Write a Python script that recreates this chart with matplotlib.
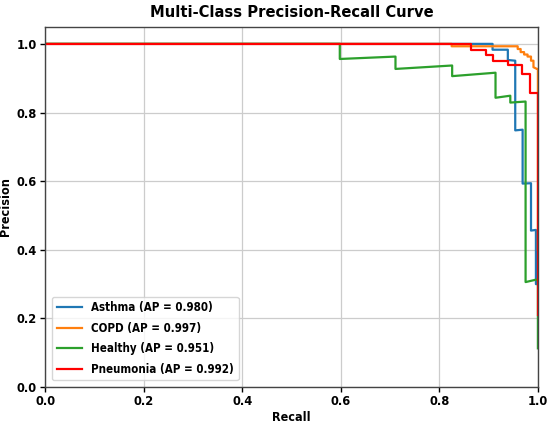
import numpy as np
import matplotlib.pyplot as plt

# recall / precision points
asthma_r = [0.0, 0.908, 0.908, 0.939, 0.939, 0.954, 0.954, 0.969, 0.969, 0.986, 0.986, 0.996, 0.996, 1.0, 1.0]
asthma_p = [1.0, 1.0, 0.983, 0.983, 0.953, 0.951, 0.748, 0.750, 0.593, 0.594, 0.456, 0.458, 0.30, 0.30, 0.30]

copd_r = [0.0, 0.825, 0.825, 0.959, 0.959, 0.965, 0.965, 0.972, 0.972, 0.979, 0.979, 0.986, 0.986, 0.991, 0.991, 0.998, 1.0, 1.0]
copd_p = [1.0, 1.0, 0.993, 0.993, 0.985, 0.985, 0.976, 0.976, 0.969, 0.969, 0.963, 0.963, 0.951, 0.951, 0.932, 0.927, 0.927, 0.40]

healthy_r = [0.0, 0.598, 0.598, 0.711, 0.711, 0.826, 0.826, 0.914, 0.914, 0.944, 0.944, 0.975, 0.975, 0.996, 1.0, 1.0]
healthy_p = [1.0, 1.0, 0.956, 0.963, 0.927, 0.937, 0.906, 0.916, 0.843, 0.849, 0.829, 0.832, 0.306, 0.313, 0.313, 0.113]

pneu_r = [0.0, 0.865, 0.865, 0.895, 0.895, 0.908, 0.908, 0.939, 0.939, 0.968, 0.968, 0.983, 0.983, 0.998, 1.0, 1.0]
pneu_p = [1.0, 1.0, 0.982, 0.982, 0.969, 0.969, 0.951, 0.951, 0.939, 0.939, 0.913, 0.913, 0.856, 0.856, 0.856, 0.209]

names = ["Asthma", "COPD", "Healthy", "Pneumonia"]
ap = [0.980, 0.997, 0.951, 0.992]
colors = ["#1f77b4", "#ff7f0e", "#2ca02c", "#ff0000"]
curves = [(asthma_r, asthma_p), (copd_r, copd_p), (healthy_r, healthy_p), (pneu_r, pneu_p)]

plt.rcParams['font.weight'] = 'bold'
plt.rcParams['font.stretch'] = 'condensed'
fig = plt.figure(figsize=(5.5, 4.24), dpi=100)
ax = fig.add_axes([0.082, 0.087, 0.896, 0.85])

for (r, p), n, a, c in zip(curves, names, ap, colors):
    ax.plot(r, p, lw=1.6, color=c, label=f"{n} (AP = {a:.3f})")

ax.set_xlim(0, 1.0)
ax.set_ylim(0, 1.05)
ax.set_xticks([0.0, 0.2, 0.4, 0.6, 0.8, 1.0])
ax.set_yticks([0.0, 0.2, 0.4, 0.6, 0.8, 1.0])
ax.tick_params(labelsize=9.2, colors='black', width=1, length=3.5, pad=2.5)
ax.grid(True, color='#cccccc', lw=0.9)
for s in ax.spines.values():
    s.set_color('#444444')
    s.set_linewidth(1)

ax.set_xlabel("Recall", fontsize=9, fontweight='bold', labelpad=2)
ax.set_ylabel("Precision", fontsize=9, fontweight='bold', labelpad=3)
ax.set_title("Multi-Class Precision-Recall Curve", fontsize=11.8, fontweight='bold', pad=7)

leg = ax.legend(loc='lower left', fontsize=8.3, borderaxespad=0.6, handlelength=2.2,
                labelspacing=0.64)
leg.get_frame().set_edgecolor('#cccccc')

fig.savefig("out.png", dpi=100)
